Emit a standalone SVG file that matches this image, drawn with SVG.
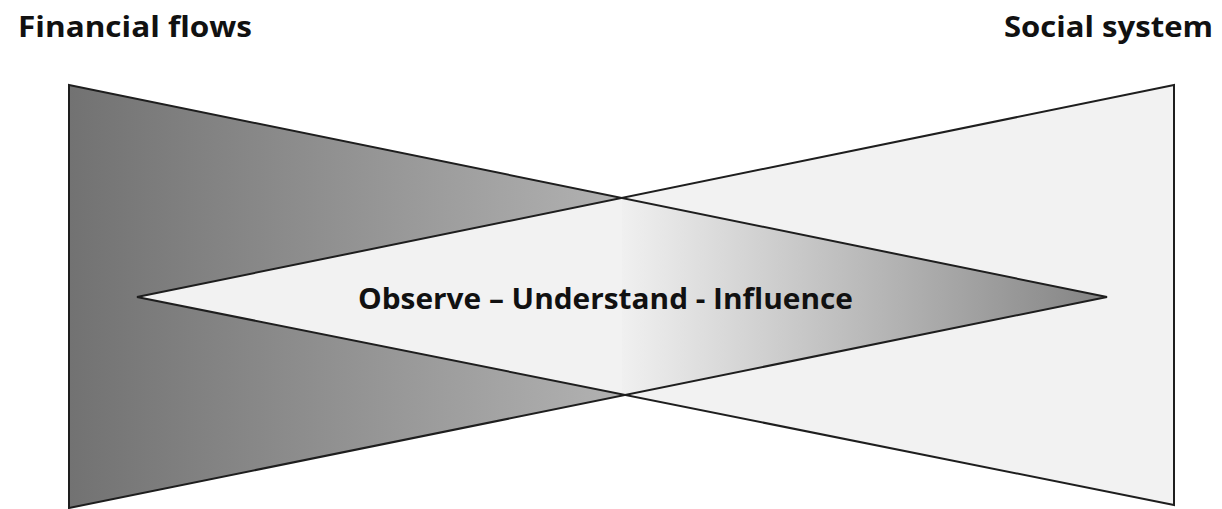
<svg xmlns="http://www.w3.org/2000/svg" width="1222" height="509" viewBox="0 0 1222 509">
  <defs>
    <linearGradient id="gLeft" gradientUnits="userSpaceOnUse" x1="69" y1="0" x2="622" y2="0">
      <stop offset="0" stop-color="#727272"/>
      <stop offset="1" stop-color="#b2b2b2"/>
    </linearGradient>
    <linearGradient id="gMid" gradientUnits="userSpaceOnUse" x1="622" y1="0" x2="1107" y2="0">
      <stop offset="0" stop-color="#f0f0f0"/>
      <stop offset="1" stop-color="#838383"/>
    </linearGradient>
    <style>
      .edge { fill: none; stroke: #1e1e1e; stroke-width: 2; stroke-linejoin: miter; }
      .title { font-family: "Open Sans", "Liberation Sans", sans-serif; font-weight: bold; font-size: 29px; fill: #111; }
    </style>
  </defs>
  <rect width="1222" height="509" fill="#ffffff"/>
  <g id="left-triangle">
    <polygon points="69,85 1107,297 69,508" fill="url(#gLeft)"/>
  </g>
  <g id="right-triangle">
    <polygon points="1174,85 137,297 1174,505" fill="#f2f2f2"/>
  </g>
  <g id="overlap">
    <polygon points="622,198 1107,297 622,395" fill="url(#gMid)"/>
  </g>
  <g id="outlines">
    <polygon class="edge" points="69,85 1107,297 69,508"/>
    <polygon class="edge" points="1174,85 137,297 1174,505"/>
  </g>
  <g id="labels">
    <text class="title" x="18" y="37" textLength="234" lengthAdjust="spacingAndGlyphs">Financial flows</text>
    <text class="title" x="1004" y="37" textLength="209" lengthAdjust="spacingAndGlyphs">Social system</text>
    <text class="title" x="358" y="309" textLength="495" lengthAdjust="spacingAndGlyphs">Observe – Understand - Influence</text>
  </g>
</svg>
